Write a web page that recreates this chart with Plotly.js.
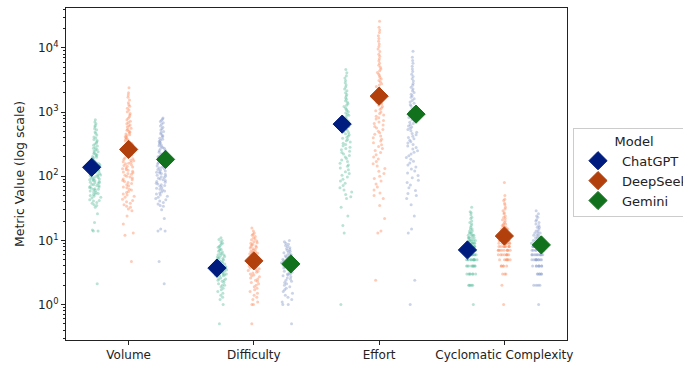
<!DOCTYPE html>
<html>
<head>
<meta charset="utf-8">
<script src="https://cdn.plot.ly/plotly-3.0.1.min.js"></script>
<style>html,body{margin:0;padding:0;background:#fff;}#chart{width:683px;height:366px;overflow:hidden;}</style>
</head>
<body>
<div id="chart"></div>
<script>
const categories = ["Volume", "Difficulty", "Effort", "Cyclomatic Complexity"];
const models = ["ChatGPT", "DeepSeek", "Gemini"];

const volChatGPT = [2.1, 14, 14, 14.5, 19, 26, 33, 35, 38, 41, 43, 46, 49, 52, 54, 57, 60, 63, 65, 68, 71, 74, 77, 80, 83, 86, 89, 92, 96, 99, 103, 106, 110, 114, 118, 122, 127, 131, 136, 141, 146, 152, 158, 165, 172, 180, 189, 198, 208, 220, 233, 248, 264, 282, 305, 330, 360, 395, 440, 490, 550, 620, 700, 760,
  36, 39, 42, 47, 50, 53, 56, 59, 62, 64, 67, 69, 72, 75, 79, 81, 85, 88, 91, 94, 97, 101, 105, 108, 112, 116, 120, 125, 129, 134, 139, 144, 149, 155, 161, 168, 176, 185, 194, 203, 214, 226, 240, 256, 273, 295, 318, 345, 375, 410, 470, 530, 590, 660];
const volDeepSeek = [4.7, 12, 13, 18, 24, 29, 31, 34, 38, 42, 47, 51, 56, 61, 66, 71, 77, 83, 88, 94, 100, 107, 113, 120, 128, 135, 143, 151, 160, 169, 178, 188, 198, 209, 221, 233, 246, 260, 275, 291, 308, 326, 345, 366, 390, 415, 442, 472, 505, 540, 585, 630, 690, 760, 850, 950, 1080, 1230, 1400, 1700, 2000, 2400,
  33, 36, 40, 44, 49, 53, 58, 63, 68, 74, 80, 86, 91, 97, 104, 110, 117, 124, 131, 139, 147, 156, 165, 174, 183, 193, 204, 215, 227, 240, 253, 268, 283, 300, 317, 336, 356, 378, 402, 428, 457, 488, 522, 560, 605, 660, 720, 800, 900, 1010, 1150, 1300, 1550, 1850];
const volGemini = [2.1, 4.7, 14, 14, 15, 22, 30, 34, 37, 41, 45, 49, 53, 57, 61, 65, 70, 74, 78, 83, 88, 93, 98, 104, 110, 115, 121, 128, 134, 141, 149, 156, 164, 173, 182, 191, 201, 212, 224, 237, 250, 265, 281, 298, 318, 340, 365, 392, 424, 460, 500, 550, 610, 680, 750, 810,
  35, 39, 43, 47, 51, 55, 59, 63, 67, 72, 76, 81, 86, 91, 96, 101, 107, 112, 118, 125, 131, 138, 145, 152, 160, 168, 177, 186, 196, 206, 218, 230, 243, 257, 273, 289, 308, 329, 352, 378, 408, 441, 480, 525, 580, 645, 715, 780];

const diffChatGPT = [0.5, 1.0, 1.2, 1.3, 1.5, 1.6, 1.8, 2.0, 2.1, 2.2, 2.4, 2.5, 2.6, 2.8, 2.9, 3.0, 3.1, 3.2, 3.3, 3.4, 3.5, 3.6, 3.7, 3.8, 3.9, 4.0, 4.1, 4.2, 4.4, 4.5, 4.6, 4.8, 5.0, 5.2, 5.4, 5.6, 5.8, 6.0, 6.3, 6.6, 7.0, 7.4, 7.8, 8.3, 8.8, 9.4, 10, 11,
  1.4, 1.7, 1.9, 2.0, 2.3, 2.4, 2.5, 2.7, 2.8, 2.9, 3.0, 3.1, 3.2, 3.3, 3.4, 3.5, 3.6, 3.7, 3.8, 3.9, 4.0, 4.2, 4.3, 4.5, 4.7, 4.9, 5.1, 5.3, 5.5, 5.9, 6.2, 6.8, 7.2, 8.0, 9.0, 10.3];
const diffDeepSeek = [0.5, 1.0, 1.0, 1.1, 1.3, 1.5, 1.7, 1.9, 2.0, 2.2, 2.4, 2.6, 2.8, 3.0, 3.1, 3.3, 3.5, 3.7, 3.9, 4.0, 4.2, 4.4, 4.6, 4.8, 5.0, 5.2, 5.4, 5.7, 6.0, 6.3, 6.6, 7.0, 7.4, 7.8, 8.2, 8.7, 9.2, 9.8, 10.5, 11, 12, 13, 15.6,
  1.2, 1.4, 1.6, 1.8, 2.1, 2.3, 2.5, 2.7, 2.9, 3.2, 3.4, 3.6, 3.8, 4.1, 4.3, 4.5, 4.7, 4.9, 5.1, 5.3, 5.6, 5.9, 6.2, 6.5, 6.8, 7.2, 7.6, 8.0, 8.5, 9.0, 9.5, 10.2, 11.5, 12.5, 14];
const diffGemini = [0.5, 1.0, 1.0, 1.2, 1.4, 1.6, 1.8, 2.0, 2.1, 2.3, 2.5, 2.6, 2.8, 3.0, 3.1, 3.3, 3.4, 3.6, 3.8, 3.9, 4.1, 4.3, 4.5, 4.7, 4.9, 5.1, 5.4, 5.7, 6.0, 6.4, 6.8, 7.2, 7.7, 8.3, 9.0, 10,
  1.1, 1.3, 1.5, 1.7, 1.9, 2.2, 2.4, 2.7, 2.9, 3.0, 3.2, 3.5, 3.7, 4.0, 4.2, 4.4, 4.6, 4.8, 5.0, 5.3, 5.5, 5.9, 6.2, 6.6, 7.0, 7.5, 8.0, 8.7, 9.5];

const effChatGPT = [1.0, 13, 17, 24, 33, 45, 52, 61, 72, 84, 97, 110, 126, 143, 160, 180, 200, 222, 246, 270, 298, 326, 357, 390, 425, 462, 500, 545, 590, 640, 695, 755, 820, 890, 970, 1060, 1160, 1280, 1420, 1580, 1780, 2000, 2300, 2650, 3100, 3700, 4600,
  48, 57, 66, 78, 90, 104, 118, 134, 150, 170, 190, 211, 234, 258, 284, 312, 341, 373, 407, 443, 481, 522, 567, 615, 667, 725, 787, 855, 930, 1010, 1110, 1220, 1350, 1500, 1680, 1890, 2150, 2470, 2870, 3400, 4100];
const effDeepSeek = [2.4, 13, 14, 22, 35, 45, 55, 68, 84, 100, 120, 145, 170, 200, 235, 270, 310, 355, 400, 450, 505, 565, 630, 700, 780, 860, 950, 1050, 1160, 1280, 1410, 1550, 1700, 1870, 2050, 2260, 2500, 2780, 3100, 3450, 3900, 4400, 5000, 5800, 6800, 8000, 9600, 11500, 14000, 17500, 21000, 26000,
  50, 61, 76, 92, 110, 132, 157, 185, 217, 252, 290, 332, 377, 425, 477, 535, 597, 665, 740, 820, 905, 1000, 1105, 1220, 1345, 1480, 1625, 1785, 1960, 2150, 2380, 2640, 2940, 3270, 3680, 4150, 4700, 5400, 6300, 7400, 8800, 10500, 12700, 15500, 19000];
const effGemini = [1.0, 2.4, 13, 15, 24, 36, 45, 54, 66, 80, 95, 112, 130, 150, 172, 196, 222, 250, 280, 312, 346, 383, 422, 464, 510, 558, 610, 665, 725, 790, 860, 940, 1030, 1130, 1240, 1370, 1520, 1700, 1900, 2150, 2450, 2800, 3300, 3900, 4700, 5800, 7200, 8900,
  50, 60, 73, 87, 103, 121, 140, 161, 184, 209, 236, 265, 296, 329, 364, 402, 443, 487, 534, 584, 637, 695, 757, 825, 900, 985, 1080, 1185, 1300, 1440, 1610, 1800, 2020, 2300, 2620, 3050, 3600, 4300, 5200, 6400];

const ccChatGPT = [1, 2, 2, 2, 2, 3, 3, 3, 3, 3, 4, 4, 4, 4, 4, 4, 5, 5, 5, 5, 5, 5, 5, 6, 6, 6, 6, 6, 6, 6, 7, 7, 7, 7, 7, 7, 8, 8, 8, 8, 8, 9, 9, 9, 9, 10, 10, 10, 10, 11, 11, 11, 12, 12, 12, 13, 13, 14, 15, 16, 18, 20, 22, 25, 28, 33,
  2, 3, 3, 4, 4, 4, 5, 5, 5, 5, 6, 6, 6, 6, 6, 7, 7, 7, 7, 8, 8, 8, 9, 9, 9, 10, 10, 11, 11, 12, 13, 14, 15, 17, 19, 23, 27];
const ccDeepSeek = [1, 2, 3, 3, 4, 4, 4, 5, 5, 5, 5, 6, 6, 6, 6, 6, 7, 7, 7, 7, 7, 8, 8, 8, 8, 8, 8, 9, 9, 9, 9, 9, 10, 10, 10, 10, 10, 11, 11, 11, 11, 12, 12, 12, 12, 13, 13, 13, 14, 14, 14, 15, 15, 16, 16, 17, 18, 19, 20, 22, 24, 26, 29, 33, 38, 44, 50, 80,
  3, 4, 4, 5, 5, 5, 6, 6, 6, 7, 7, 7, 7, 8, 8, 8, 9, 9, 9, 9, 10, 10, 10, 11, 11, 11, 12, 12, 13, 13, 14, 15, 16, 17, 18, 21, 23, 27, 31, 36, 42];
const ccGemini = [1, 2, 2, 2, 3, 3, 3, 3, 4, 4, 4, 4, 4, 5, 5, 5, 5, 5, 5, 6, 6, 6, 6, 6, 6, 7, 7, 7, 7, 7, 7, 8, 8, 8, 8, 8, 9, 9, 9, 9, 10, 10, 10, 10, 11, 11, 11, 12, 12, 13, 13, 14, 15, 16, 17, 19, 21, 24, 29,
  2, 3, 3, 4, 4, 4, 5, 5, 5, 5, 6, 6, 6, 6, 7, 7, 7, 7, 8, 8, 8, 9, 9, 9, 10, 10, 11, 11, 12, 13, 14, 16, 18, 20, 23, 26];

// Mean markers (diamonds)
const meanChatGPT = [138, 3.7, 650, 7.1];
const meanDeepSeek = [262, 4.8, 1770, 11.7];
const meanGemini = [183, 4.3, 930, 8.5];

const stripData = {
  ChatGPT: [volChatGPT, diffChatGPT, effChatGPT, ccChatGPT],
  DeepSeek: [volDeepSeek, diffDeepSeek, effDeepSeek, ccDeepSeek],
  Gemini: [volGemini, diffGemini, effGemini, ccGemini]
};
const meanData = { ChatGPT: meanChatGPT, DeepSeek: meanDeepSeek, Gemini: meanGemini };

const stripColors = ["rgba(102,194,165,0.45)", "rgba(252,141,98,0.45)", "rgba(141,160,203,0.45)"];
const diamondColors = ["#001c7f", "#b1400d", "#12711c"];
const stripOffsets = [-0.265, 0, 0.265];
const diamondOffsets = [-0.295, 0, 0.295];

const traces = [];
models.forEach((m, j) => {
  const xs = [], ys = [];
  stripData[m].forEach((arr, i) => {
    arr.forEach(v => { xs.push(i + stripOffsets[j]); ys.push(v); });
  });
  traces.push({
    type: "box", x: xs, y: ys, boxpoints: "all", jitter: 1, pointpos: 0,
    width: 0.1, fillcolor: "rgba(0,0,0,0)", line: { color: "rgba(0,0,0,0)", width: 0 },
    marker: { color: stripColors[j], size: 3 }, showlegend: false, hoverinfo: "y"
  });
});
models.forEach((m, j) => {
  traces.push({
    type: "scatter", mode: "markers", name: m,
    x: categories.map((c, i) => i + diamondOffsets[j]),
    y: meanData[m],
    marker: { symbol: "diamond", size: 14, color: diamondColors[j], line: { color: diamondColors[j], width: 1 } }
  });
});

const minorVals = [];
[0.1, 1, 10, 100, 1000, 10000].forEach(d => { for (let k = 2; k <= 9; k++) minorVals.push(k * d); });

const layout = {
  width: 683, height: 366,
  margin: { l: 66, r: 116, t: 8, b: 26, autoexpand: false },
  paper_bgcolor: "#fff", plot_bgcolor: "#fff",
  font: { family: "DejaVu Sans, sans-serif", size: 12, color: "#222" },
  xaxis: {
    type: "linear", range: [-0.5, 3.5], tickvals: [0, 1, 2, 3], ticktext: categories,
    showgrid: false, zeroline: false, showline: true, mirror: true, linecolor: "#222", linewidth: 1,
    ticks: "outside", ticklen: 4, tickcolor: "#222", tickfont: { size: 12 }, automargin: false
  },
  yaxis: {
    type: "log", range: [Math.log10(0.28), Math.log10(42000)],
    tickvals: [1, 10, 100, 1000, 10000],
    ticktext: ["10<sup>0</sup>", "10<sup>1</sup>", "10<sup>2</sup>", "10<sup>3</sup>", "10<sup>4</sup>"],
    showgrid: false, zeroline: false, showline: true, mirror: true, linecolor: "#222", linewidth: 1,
    ticks: "outside", ticklen: 4, tickcolor: "#222", tickfont: { size: 12 }, automargin: false,
    minor: { tickvals: minorVals, ticks: "outside", ticklen: 2, tickcolor: "#222", showgrid: false },
    title: { text: "Metric Value (log scale)", font: { size: 12.5 }, standoff: 10 }
  },
  legend: {
    x: 1.012, xanchor: "left", y: 0.639, yanchor: "top",
    bordercolor: "#cccccc", borderwidth: 1, bgcolor: "#fff",
    title: { text: "Model", side: "top center", font: { size: 13 } },
    font: { size: 13 }, tracegroupgap: 0, itemwidth: 38
  },
  showlegend: true
};

Plotly.newPlot("chart", traces, layout, { displayModeBar: false, staticPlot: true });
</script>
</body>
</html>
